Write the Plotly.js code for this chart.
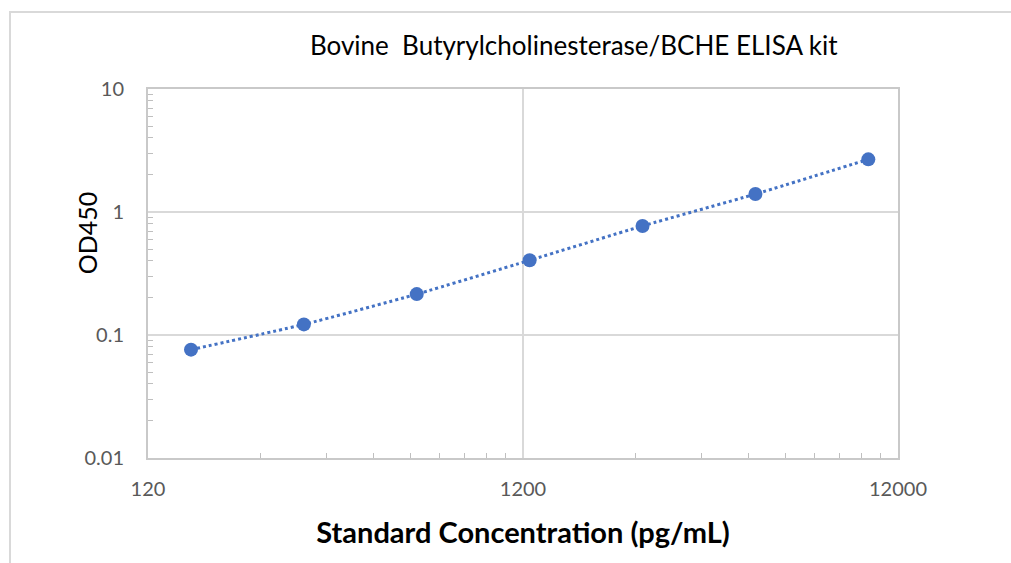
<!DOCTYPE html>
<html>
<head>
<meta charset="utf-8">
<script src="https://cdn.plot.ly/plotly-3.0.1.min.js"></script>
<style>
  html, body { margin: 0; padding: 0; background: #fff; }
  #wrap { position: relative; width: 1011px; height: 563px; overflow: hidden; }
  #frame { position: absolute; left: 9px; top: 11px; width: 1010px; height: 560px;
           border-top: 2px solid #d9d9d9; border-left: 2px solid #d9d9d9; pointer-events: none; }
  #chart { position: absolute; left: 0; top: 0; width: 1011px; height: 563px; }
</style>
</head>
<body>
<div id="wrap">
  <div id="chart"></div>
  <div id="frame"></div>
</div>
<script>
const conc = [156.25, 312.5, 625, 1250, 2500, 5000, 10000];
const od = [0.076, 0.122, 0.215, 0.405, 0.77, 1.40, 2.68];

const xTickVals = [120, 1200, 12000];
const xTickText = ['120', '1200', '12000'];
const yTickVals = [0.01, 0.1, 1, 10];
const yTickText = ['0.01', '0.1', '1', '10'];
const minorMult = [2, 3, 4, 5, 6, 7, 8, 9];

const xMinor = [];
[120, 1200].forEach(b => minorMult.forEach(m => xMinor.push(b * m)));
const yMinor = [];
[0.01, 0.1, 1].forEach(b => minorMult.forEach(m => yMinor.push(b * m)));

const blue = '#4472C4';
const fam = 'Lato, "Open Sans", sans-serif';

const traces = [
  {
    x: conc, y: od, type: 'scatter', mode: 'lines',
    line: { color: blue, width: 3, dash: 'dot', shape: 'spline', smoothing: 0.6 },
    hoverinfo: 'skip', showlegend: false
  },
  {
    x: conc, y: od, type: 'scatter', mode: 'markers',
    marker: { color: blue, size: 14 },
    showlegend: false
  }
];

const tickFont = { family: fam, size: 20, color: '#595959' };

const layout = {
  width: 1011, height: 563,
  margin: { l: 148, r: 113, t: 89, b: 105 },
  paper_bgcolor: '#ffffff', plot_bgcolor: '#ffffff',
  title: {
    text: 'Bovine  Butyrylcholinesterase/BCHE ELISA kit',
    font: { family: fam, size: 26, color: '#000' },
    x: 0.5675, xanchor: 'center', y: 0.918, yanchor: 'middle'
  },
  annotations: [{
    text: 'OD450', xref: 'paper', yref: 'paper',
    x: -0.081, y: 0.61, xanchor: 'center', yanchor: 'middle',
    textangle: -90, showarrow: false,
    font: { family: fam, size: 25, color: '#000' }
  }],
  xaxis: {
    type: 'log',
    range: [Math.log10(120), Math.log10(12000)],
    tickmode: 'array', tickvals: xTickVals, ticktext: xTickText,
    tickfont: tickFont, ticks: '', ticklabelstandoff: 12,
    showgrid: true, gridcolor: '#d9d9d9', gridwidth: 2,
    showline: true, linecolor: '#c9c9c9', linewidth: 2, mirror: true,
    zeroline: false,
    minor: { tickmode: 'array', tickvals: xMinor, ticks: 'inside', ticklen: 5, tickcolor: '#bfbfbf', tickwidth: 1, showgrid: false },
    title: {
      text: '<b>Standard Concentration (pg/mL)</b>',
      font: { family: fam, size: 29, color: '#000' },
      standoff: 24
    }
  },
  yaxis: {
    type: 'log',
    range: [-2, 1],
    tickmode: 'array', tickvals: yTickVals, ticktext: yTickText,
    tickfont: tickFont, ticks: '', ticklabelstandoff: 18,
    showgrid: true, gridcolor: '#d9d9d9', gridwidth: 2,
    showline: true, linecolor: '#c9c9c9', linewidth: 2, mirror: true,
    zeroline: false,
    minor: { tickmode: 'array', tickvals: yMinor, ticks: 'inside', ticklen: 5, tickcolor: '#bfbfbf', tickwidth: 1, showgrid: false }
  }
};

Plotly.newPlot('chart', traces, layout, { displayModeBar: false, staticPlot: true });
</script>
</body>
</html>
